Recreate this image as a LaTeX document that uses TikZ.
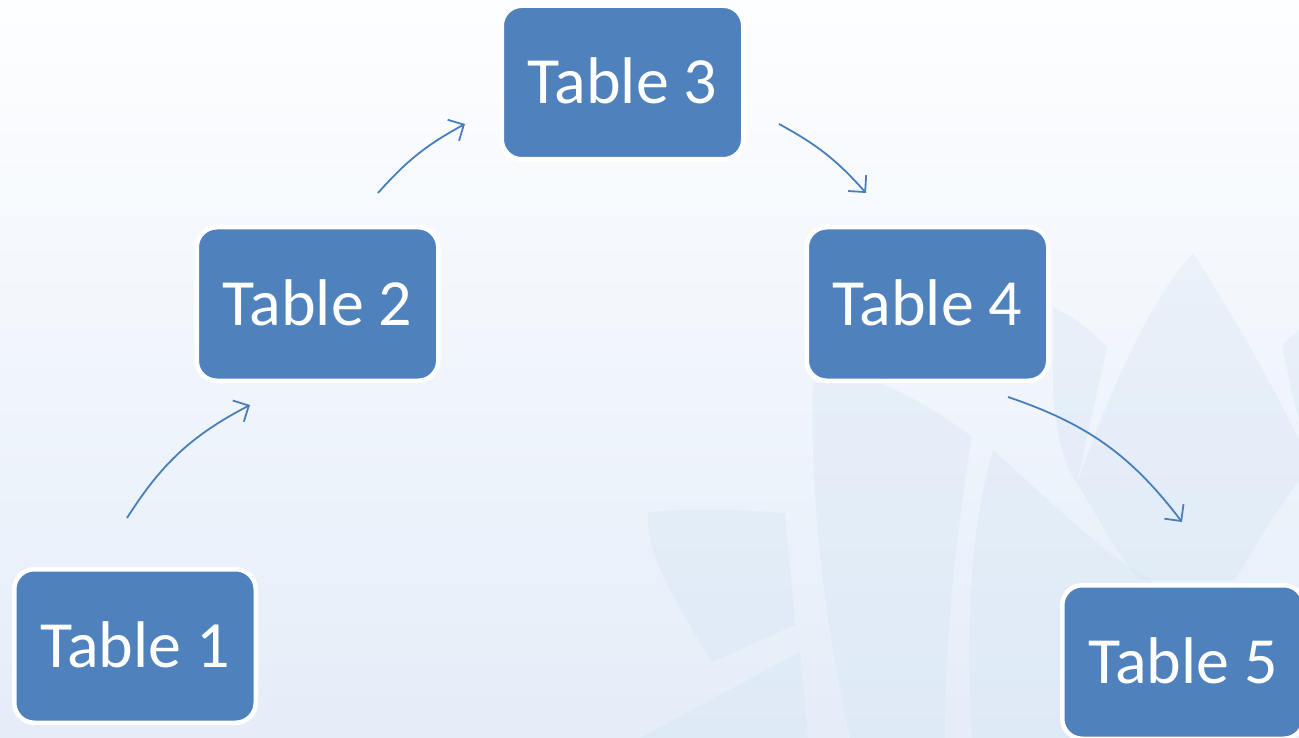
\documentclass[tikz,border=0pt]{standalone}
\usepackage{fontspec}
\setmainfont{Carlito}
\usetikzlibrary{arrows.meta}
\definecolor{boxblue}{HTML}{4F81BD}
\definecolor{arrblue}{HTML}{4A7EBB}
\definecolor{bgtop}{HTML}{FDFEFF}
\definecolor{bgbot}{HTML}{E4EDF8}
\definecolor{leafc}{HTML}{D3E3F3}
\begin{document}
\begin{tikzpicture}[x=1pt,y=-1pt,
  tbl/.style={draw=white, line width=4.5pt, fill=boxblue, rounded corners=20pt,
    minimum width=241.5pt, minimum height=153.5pt, text=white, inner sep=0pt,
    font=\fontsize{66}{72}\selectfont, text height=42pt, text depth=0pt},
  arr/.style={draw=arrblue, line width=1.8pt,
    -{Straight Barb[length=12pt,width=24pt,line width=1.8pt]}},
  leaf/.style={fill=leafc, opacity=0.33}]
\shade[top color=bgtop, bottom color=bgbot] (0,0) rectangle (1299,738);
\clip (0,0) rectangle (1299,738);
% faint background leaves
\fill[leaf] (648,512) .. controls (700,508) and (750,510) .. (785,513)
  -- (795,625) -- (712,662) .. controls (680,610) and (650,560) .. (648,525) -- cycle;
\fill[leaf] (640,738) -- (800,652) -- (808,738) -- cycle;
\fill[leaf] (813,383) -- (880,383) .. controls (920,400) and (950,420) .. (972,437)
  .. controls (955,540) and (945,640) .. (945,738) -- (850,738)
  .. controls (820,600) and (810,480) .. (813,383) -- cycle;
\fill[leaf] (993,450) .. controls (1060,510) and (1110,560) .. (1150,578)
  .. controls (1170,640) and (1180,700) .. (1190,738) -- (972,738)
  .. controls (965,620) and (972,520) .. (993,450) -- cycle;
\fill[leaf] (1193,253) .. controls (1230,310) and (1270,380) .. (1299,440)
  -- (1299,480) .. controls (1270,520) and (1250,555) .. (1235,580)
  -- (1140,580) .. controls (1120,560) and (1100,520) .. (1077,483)
  .. controls (1110,390) and (1150,300) .. (1193,253) -- cycle;
\fill[leaf] (1053,307) .. controls (1080,320) and (1095,335) .. (1107,347)
  -- (1077,483) .. controls (1060,460) and (1055,420) .. (1053,390) -- cycle;
\fill[leaf] (1282,345) -- (1299,330) -- (1299,420) .. controls (1292,395) and (1287,370) .. (1282,345) -- cycle;
% tables
\node[tbl] (t1) at (135,646) {Table 1};
\node[tbl] (t2) at (317.5,304) {Table 2};
\node[tbl] (t3) at (622.5,82.5) {Table 3};
\node[tbl] (t4) at (927.5,304) {Table 4};
\node[tbl] (t5) at (1183,662) {Table 5};
% connectors
\draw[arr] ([shift={(-8,-49)}]t1.north) to[bend left=15] ([shift={(-67.5,22)}]t2.south);
\draw[arr] ([shift={(60.5,-32)}]t2.north) to[bend left=10] ([shift={(-34.5,41.5)}]t3.west);
\draw[arr] ([shift={(33.5,41.5)}]t3.east) to[bend left=10] ([shift={(-61.5,-32)}]t4.north);
\draw[arr] ([shift={(80.5,14)}]t4.south) to[bend left=17] ([shift={(-1,-61)}]t5.north);
\end{tikzpicture}
\end{document}
